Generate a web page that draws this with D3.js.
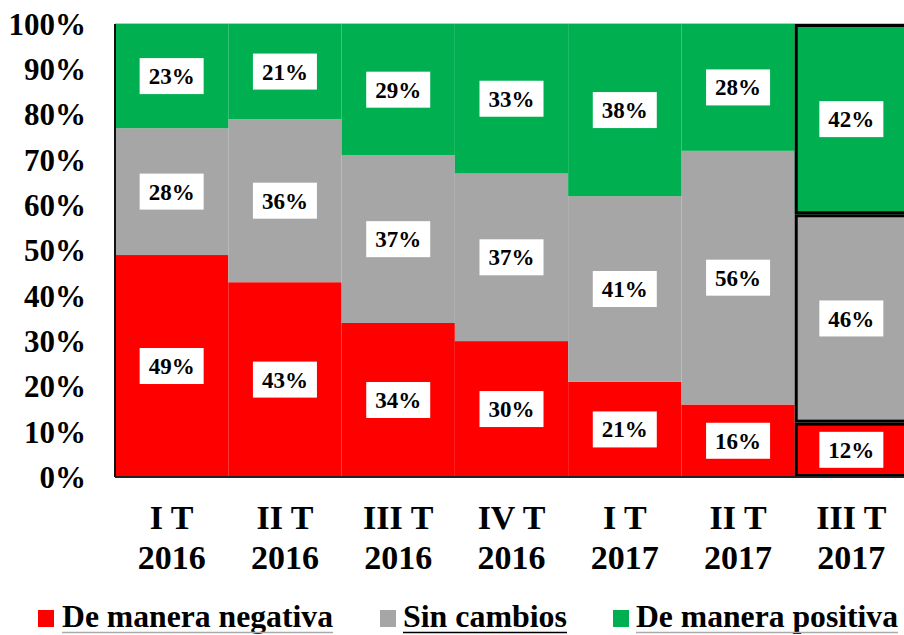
<!DOCTYPE html>
<html>
<head>
<meta charset="utf-8">
<script src="https://cdn.jsdelivr.net/npm/d3@7"></script>
<style>
  body { margin: 0; background: #fff; }
</style>
</head>
<body>
<div id="chart"></div>
<script>
const quarters = [['I T', '2016'], ['II T', '2016'], ['III T', '2016'], ['IV T', '2016'], ['I T', '2017'], ['II T', '2017'], ['III T', '2017']];
const negativa = [49, 43, 34, 30, 21, 16, 12];
const sinCambios = [28, 36, 37, 37, 41, 56, 46];
const positiva = [23, 21, 29, 33, 38, 28, 42];
const yTicks = [0, 10, 20, 30, 40, 50, 60, 70, 80, 90, 100];

const seriesNames = ['De manera negativa', 'Sin cambios', 'De manera positiva'];
const colors = ['#FF0000', '#A6A6A6', '#00B050'];

const width = 904;
const height = 635;
const plot = { left: 115, right: 908, top: 24, bottom: 477 };
const FONT = "'Liberation Serif', 'Times New Roman', Tinos, serif";

const svg = d3.select('#chart').append('svg')
  .attr('width', width)
  .attr('height', height)
  .style('font-family', FONT)
  .style('font-weight', 'bold');

const rows = quarters.map((q, i) => ({
  key: i,
  label: q,
  s0: negativa[i],
  s1: sinCambios[i],
  s2: positiva[i],
}));

const x = d3.scaleBand().domain(rows.map((d) => d.key)).range([plot.left, plot.right]).padding(0);
const y = d3.scaleLinear().domain([0, 100]).range([plot.bottom, plot.top]);

const stack = d3.stack().keys(['s0', 's1', 's2'])(rows);

// top border of plot area
svg.append('line')
  .attr('x1', plot.left).attr('x2', plot.right)
  .attr('y1', plot.top).attr('y2', plot.top)
  .attr('stroke', '#888').attr('stroke-width', 1);

const last = rows.length - 1;

const layers = svg.append('g')
  .selectAll('g')
  .data(stack)
  .enter()
  .append('g')
  .attr('fill', (d, i) => colors[i]);

layers.selectAll('rect')
  .data((d) => d)
  .enter()
  .append('rect')
  .attr('x', (d) => x(d.data.key))
  .attr('y', (d) => y(d[1]))
  .attr('width', x.bandwidth())
  .attr('height', (d) => y(d[0]) - y(d[1]));

// highlighted last quarter
layers.append('rect')
  .datum((d) => d[last])
  .attr('x', (d) => x(d.data.key) + 1.5)
  .attr('y', (d) => y(d[1]) + 1.5)
  .attr('width', x.bandwidth())
  .attr('height', (d) => y(d[0]) - y(d[1]) - 3)
  .attr('stroke', '#000')
  .attr('stroke-width', 3);

// value labels
const labels = svg.append('g');
stack.forEach((layer) => {
  layer.forEach((d) => {
    const cx = x(d.data.key) + x.bandwidth() / 2;
    const cy = (y(d[0]) + y(d[1])) / 2;
    const g = labels.append('g').attr('transform', `translate(${cx},${cy})`);
    g.append('rect').attr('x', -32).attr('y', -18).attr('width', 64).attr('height', 36).attr('fill', '#fff');
    g.append('text')
      .attr('text-anchor', 'middle')
      .attr('dy', '0.35em')
      .style('font-size', '23px')
      .text(`${d[1] - d[0]}%`);
  });
});

// axes lines
svg.append('line')
  .attr('x1', plot.left).attr('x2', plot.left)
  .attr('y1', plot.top).attr('y2', plot.bottom)
  .attr('stroke', '#111').attr('stroke-width', 2);
svg.append('line')
  .attr('x1', plot.left).attr('x2', plot.right)
  .attr('y1', plot.bottom).attr('y2', plot.bottom)
  .attr('stroke', '#222').attr('stroke-width', 2);

// y tick labels
svg.append('g')
  .selectAll('text')
  .data(yTicks)
  .enter()
  .append('text')
  .attr('x', 86)
  .attr('y', (d) => y(d))
  .attr('dy', '0.35em')
  .attr('text-anchor', 'end')
  .style('font-size', '31px')
  .text((d) => `${d}%`);

// x labels
const xl = svg.append('g')
  .selectAll('text')
  .data(rows)
  .enter()
  .append('text')
  .attr('text-anchor', 'middle')
  .style('font-size', '34px');
xl.append('tspan').attr('x', (d) => x(d.key) + x.bandwidth() / 2).attr('y', 529).text((d) => d.label[0]);
xl.append('tspan').attr('x', (d) => x(d.key) + x.bandwidth() / 2).attr('y', 569).text((d) => d.label[1]);

// legend
const legendItems = [
  { sx: 38, tx: 62, tw: 271, line: '#aaa' },
  { sx: 380, tx: 403, tw: 164, line: '#000' },
  { sx: 613, tx: 636, tw: 262, line: '#aaa' },
];
const legend = svg.append('g').attr('id', 'legend');
legendItems.forEach((it, i) => {
  legend.append('rect').attr('x', it.sx).attr('y', 610).attr('width', 16).attr('height', 17).attr('fill', colors[i]);
  legend.append('text')
    .attr('x', it.tx)
    .attr('y', 627)
    .attr('textLength', it.tw)
    .attr('lengthAdjust', 'spacingAndGlyphs')
    .style('font-size', '31px')
    .text(seriesNames[i]);
  legend.append('line')
    .attr('x1', it.tx).attr('x2', it.tx + it.tw)
    .attr('y1', 632.5).attr('y2', 632.5)
    .attr('stroke', it.line).attr('stroke-width', 1.5);
});
</script>
</body>
</html>
